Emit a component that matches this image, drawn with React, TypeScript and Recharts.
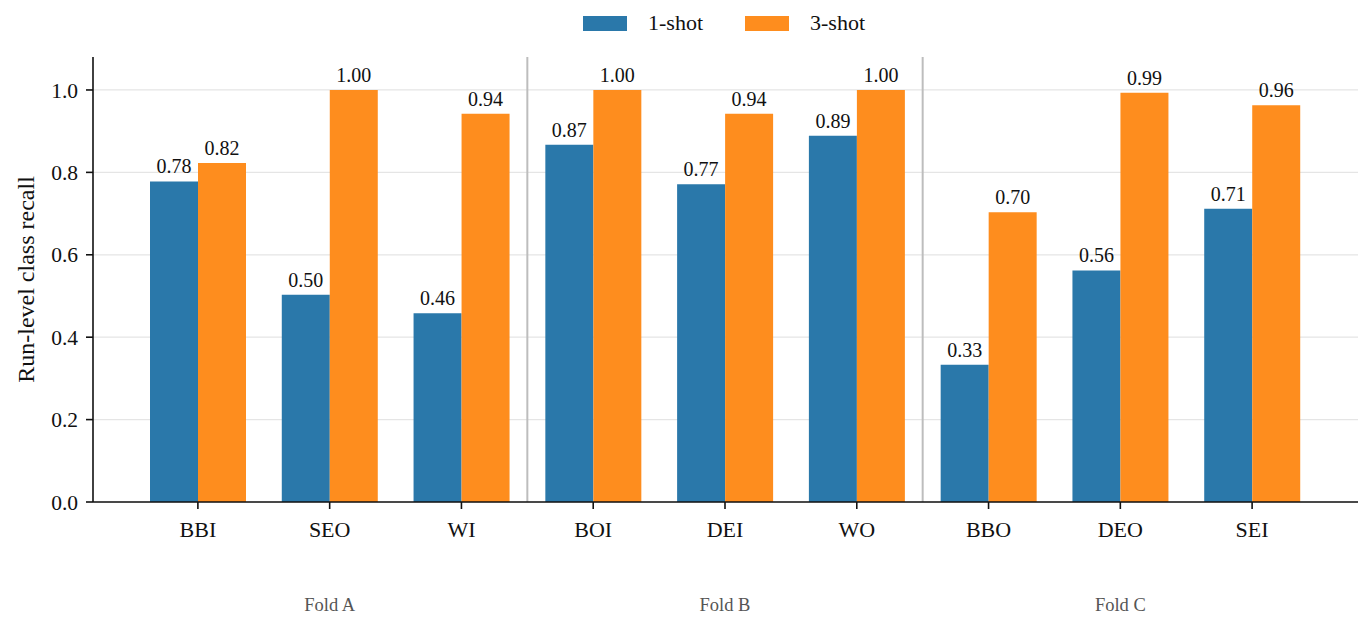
import { Bar, BarChart, CartesianGrid, LabelList, ReferenceLine, XAxis, YAxis } from "recharts";

const categories = ["BBI", "SEO", "WI", "BOI", "DEI", "WO", "BBO", "DEO", "SEI"];
const folds = ["Fold A", "Fold A", "Fold A", "Fold B", "Fold B", "Fold B", "Fold C", "Fold C", "Fold C"];
const oneShot = [0.778, 0.503, 0.458, 0.867, 0.771, 0.889, 0.333, 0.562, 0.712];
const threeShot = [0.823, 1.0, 0.942, 1.0, 0.942, 1.0, 0.703, 0.993, 0.963];
const yTicks = [0, 0.2, 0.4, 0.6, 0.8, 1.0];

const BLUE = "#2a78aa";
const ORANGE = "#fe8d1e";
const FONT = "'Liberation Serif', 'DejaVu Serif', serif";

const data = categories.map((cat, i) => ({
  cat,
  one: oneShot[i],
  three: threeShot[i],
}));
// fold name is shown once, under the middle category of each group
const foldLabel = (i: number) => (folds[i] === folds[i - 1] && folds[i] === folds[i + 1] ? folds[i] : "");
// last category of each fold except the final one gets a separator
const foldEnds = categories.filter((_, i) => i < categories.length - 1 && folds[i] !== folds[i + 1]);

const legendItems = [
  { name: "1-shot", color: BLUE },
  { name: "3-shot", color: ORANGE },
];

function LegendBox() {
  return (
    <div
      style={{
        position: "absolute",
        top: 9,
        left: 93,
        width: 1262,
        display: "flex",
        justifyContent: "center",
        gap: 42,
        fontFamily: FONT,
        fontSize: 22,
        lineHeight: "28px",
        color: "#111",
      }}
    >
      {legendItems.map((it) => (
        <div key={it.name} style={{ display: "flex", alignItems: "center", gap: 21 }}>
          <span style={{ display: "inline-block", width: 44, height: 15, background: it.color }} />
          <span>{it.name}</span>
        </div>
      ))}
    </div>
  );
}

export default function App() {
  return (
    <div style={{ position: "absolute", left: 0, top: 0, width: 1367, height: 618, background: "#fff" }}>
      <BarChart
        width={1367}
        height={618}
        data={data}
        margin={{ top: 57, right: 9, bottom: 0, left: 0 }}
        barCategoryGap={18}
        barGap={0}
        style={{ fontFamily: FONT }}
      >
        <CartesianGrid
          vertical={false}
          stroke="#e5e5e5"
          strokeWidth={1.2}
          horizontalValues={yTicks}
        />
        <XAxis
          dataKey="cat"
          interval={0}
          padding={{ left: 39, right: 40 }}
          height={70}
          tickSize={7}
          tickMargin={12}
          axisLine={{ stroke: "#111", strokeWidth: 1.6 }}
          tickLine={{ stroke: "#111", strokeWidth: 1.6 }}
          tick={{ fill: "#111", fontSize: 22, fontFamily: FONT }}
        />
        <XAxis
          xAxisId="fold"
          dataKey="cat"
          interval={0}
          padding={{ left: 39, right: 40 }}
          height={46}
          axisLine={false}
          tickLine={false}
          tickSize={0}
          tickMargin={26}
          tickFormatter={(_v: string, i: number) => foldLabel(i)}
          tick={{ fill: "#555", fontSize: 18.5, fontFamily: FONT }}
        />
        <YAxis
          domain={[0, 1.08]}
          ticks={yTicks}
          width={93}
          tickSize={7}
          tickMargin={8}
          tickFormatter={(v: number) => v.toFixed(1)}
          axisLine={{ stroke: "#111", strokeWidth: 1.6 }}
          tickLine={{ stroke: "#111", strokeWidth: 1.6 }}
          tick={{ fill: "#111", fontSize: 21.5, fontFamily: FONT }}
          label={{
            value: "Run-level class recall",
            angle: -90,
            position: "insideLeft",
            offset: 25,
            style: { textAnchor: "middle", fill: "#111", fontSize: 24, fontFamily: FONT },
          }}
        />
        {foldEnds.map((c) => (
          <ReferenceLine key={c} x={c} position="end" stroke="#bdbdbd" strokeWidth={2} />
        ))}
        <Bar dataKey="one" name="1-shot" fill={BLUE} isAnimationActive={false}>
          <LabelList dataKey="one" position="top" offset={8} formatter={(v: number) => v.toFixed(2)} fill="#111" fontSize={20} fontFamily={FONT} />
        </Bar>
        <Bar dataKey="three" name="3-shot" fill={ORANGE} isAnimationActive={false}>
          <LabelList dataKey="three" position="top" offset={8} formatter={(v: number) => v.toFixed(2)} fill="#111" fontSize={20} fontFamily={FONT} />
        </Bar>
      </BarChart>
      <LegendBox />
    </div>
  );
}
